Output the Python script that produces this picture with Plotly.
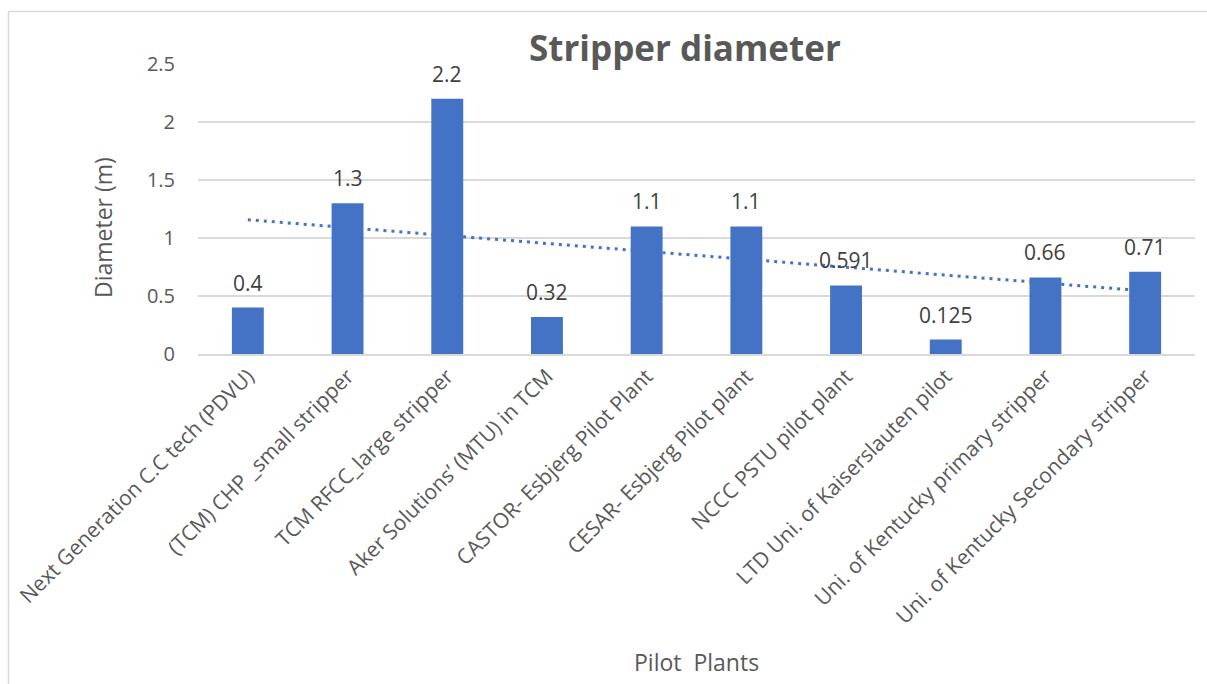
import numpy as np
import plotly.graph_objects as go

# Pilot plants and their stripper diameters (m)
plants = [
    "Next Generation C.C tech (PDVU)",
    "(TCM) CHP _small stripper",
    "TCM RFCC_large stripper",
    "Aker Solutions’ (MTU) in TCM",
    "CASTOR- Esbjerg Pilot Plant",
    "CESAR- Esbjerg Pilot plant",
    "NCCC PSTU pilot plant",
    "LTD Uni. of Kaiserslauten pilot",
    "Uni. of Kentucky primary stripper",
    "Uni. of Kentucky Secondary stripper",
]
diameters = [0.4, 1.3, 2.2, 0.32, 1.1, 1.1, 0.591, 0.125, 0.66, 0.71]
diameter_labels = ["0.4", "1.3", "2.2", "0.32", "1.1", "1.1", "0.591", "0.125", "0.66", "0.71"]
y_ticks = [0, 0.5, 1, 1.5, 2, 2.5]
y_tick_labels = ["0", "0.5", "1", "1.5", "2", "2.5"]

BAR = "#4472C4"
TXT = "#595959"
GRID = "#D9D9D9"
FONT = "Open Sans"

# Linear trendline over category index (1..n)
idx = np.arange(1, len(diameters) + 1)
slope, intercept = np.polyfit(idx, diameters, 1)
trend = slope * idx + intercept

W, H = 1207, 684
L, R, T, B = 198, 12, 64, 330
pw, ph = W - L - R, H - T - B

fig = go.Figure()
fig.add_trace(go.Bar(
    x=plants, y=diameters, marker=dict(color=BAR, line=dict(width=0)),
    hoverinfo="x+y", showlegend=False,
))
fig.add_trace(go.Scatter(
    x=plants, y=trend, mode="lines",
    line=dict(color=BAR, width=3, dash="3px,5px"),
    hoverinfo="skip", showlegend=False,
))

# Value labels above each bar
for name, val, lab in zip(plants, diameters, diameter_labels):
    fig.add_annotation(
        x=name, y=val, text=lab, showarrow=False, yanchor="bottom",
        yshift=9, font=dict(family=FONT, size=21, color="#404040"),
    )

def px_x(px):
    return (px - L) / pw

def px_y(py):
    return (H - B - py) / ph

# Chart-area frame (top and left edges)
fig.add_shape(type="line", xref="paper", yref="paper",
              x0=px_x(8), x1=px_x(1215), y0=px_y(11.5), y1=px_y(11.5),
              line=dict(color=GRID, width=1.5))
fig.add_shape(type="line", xref="paper", yref="paper",
              x0=px_x(8.5), x1=px_x(8.5), y0=px_y(11.5), y1=px_y(700),
              line=dict(color=GRID, width=1.5))

fig.add_annotation(
    xref="paper", yref="paper", x=px_x(685), y=px_y(47),
    text="<b>Stripper diameter</b>", showarrow=False,
    xanchor="center", yanchor="middle",
    font=dict(family=FONT, size=35, color=TXT),
)
fig.add_annotation(
    xref="paper", yref="paper", x=px_x(103), y=px_y(228),
    text="Diameter (m)", showarrow=False, textangle=-90,
    xanchor="center", yanchor="middle",
    font=dict(family=FONT, size=23, color=TXT),
)
fig.add_annotation(
    xref="paper", yref="paper", x=px_x(696), y=px_y(662),
    text="Pilot  Plants", showarrow=False,
    xanchor="center", yanchor="middle",
    font=dict(family=FONT, size=23, color=TXT),
)

fig.update_layout(
    width=W, height=H,
    margin=dict(l=L, r=R, t=T, b=B),
    paper_bgcolor="white", plot_bgcolor="white",
    bargap=0.68,
    font=dict(family=FONT, color=TXT),
)
fig.update_xaxes(
    tickangle=-45, tickfont=dict(family=FONT, size=21, color=TXT),
    showgrid=False, showline=True, linecolor=GRID, linewidth=1.5,
    ticks="", automargin=False,
)
fig.update_yaxes(
    range=[0, 2.5], tickvals=y_ticks, ticktext=y_tick_labels,
    tickfont=dict(family=FONT, size=20, color=TXT),
    showgrid=True, gridcolor=GRID, gridwidth=1.5,
    zeroline=False, showline=False, ticks="", ticklen=0,
    automargin=False, ticklabelstandoff=22,
)

fig.write_html("out.html")
